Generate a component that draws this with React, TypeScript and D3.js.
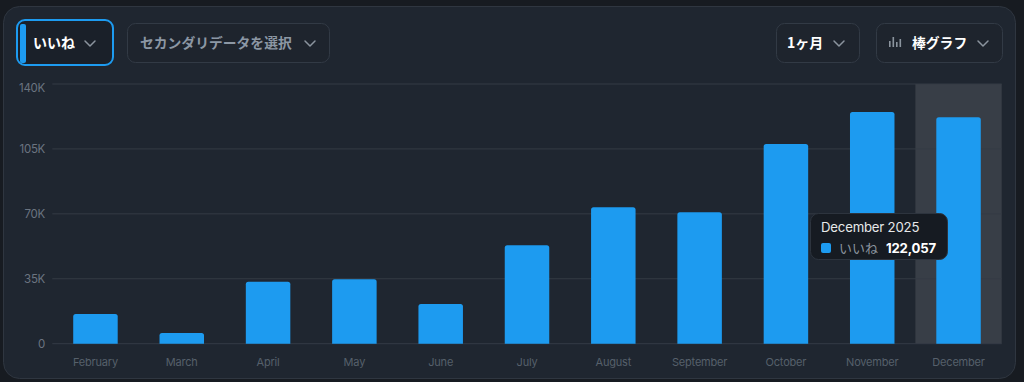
import React from "react";
import * as d3 from "d3";

const months = ["February", "March", "April", "May", "June", "July", "August", "September", "October", "November", "December"];
const likes = [16000, 5800, 33400, 34700, 21400, 53100, 73600, 70800, 107600, 124900, 122057];
const yTicks = [0, 35000, 70000, 105000, 140000];
const yTickLabels = ["0", "35K", "70K", "105K", "140K"];
const seriesName = "いいね";
const secondaryLabel = "セカンダリデータを選択";
const periodLabel = "1ヶ月";
const chartTypeLabel = "棒グラフ";
const tooltipTitle = "December 2025";
const highlightIndex = 10;

const W = 1024;
const H = 382;
const FONT = "Inter, 'Noto Sans CJK JP', 'Noto Sans', sans-serif";
const JP = "'Noto Sans CJK JP', Inter, sans-serif";

function Chevron({ x, y }: { x: number; y: number }) {
  return (
    <polyline
      points={`${x},${y} ${x + 5},${y + 5} ${x + 10},${y}`}
      fill="none"
      stroke="#8b949e"
      strokeWidth={1.5}
      strokeLinecap="round"
      strokeLinejoin="round"
    />
  );
}

export default function App() {
  const x = d3.scaleBand<string>().domain(months).range([52.3, 1001.7]).padding(0);
  const y = d3.scaleLinear().domain([0, 140000]).range([343.7, 84]);
  const barW = 44.5;
  const fmt = d3.format(",");

  const hx = x(months[highlightIndex])!;

  const barPath = (x0: number, y0: number, w: number, h: number, r: number) => {
    const rr = Math.min(r, h);
    return `M${x0},${y0 + h}V${y0 + rr}Q${x0},${y0} ${x0 + rr},${y0}H${x0 + w - rr}Q${x0 + w},${y0} ${x0 + w},${y0 + rr}V${y0 + h}Z`;
  };

  return (
    <svg
      width={W}
      height={H}
      style={{ position: "absolute", left: 0, top: 0, display: "block" }}
      fontFamily={FONT}
    >
      <rect x={0} y={0} width={W} height={H} fill="#171b21" />
      <rect x={3.5} y={6.5} width={1012} height={372} rx={16} fill="#1f2630" stroke="#2f3640" strokeWidth={1} />

      {/* Controls */}
      <rect x={17} y={20} width={96} height={45} rx={8} fill="#1a2029" stroke="#1d9bf0" strokeWidth={2} />
      <rect x={20} y={24} width={6} height={39} rx={2} fill="#1d9bf0" />
      <text x={33} y={48} fontFamily={JP} fontSize={14} fontWeight={700} fill="#ffffff">{seriesName}</text>
      <Chevron x={85} y={41} />

      <rect x={127.5} y={23.5} width={202} height={39} rx={8} fill="#1e242d" stroke="#323a45" strokeWidth={1} />
      <text x={140} y={48} fontFamily={JP} fontSize={13.8} fontWeight={700} fill="#8c97a4">{secondaryLabel}</text>
      <Chevron x={305} y={41} />

      <rect x={776.5} y={23.5} width={83} height={39} rx={8} fill="#1e242d" stroke="#323a45" strokeWidth={1} />
      <text x={787} y={48} fontFamily={JP} fontSize={14} fontWeight={700} fill="#ffffff">{periodLabel}</text>
      <Chevron x={834} y={41} />

      <rect x={876.5} y={23.5} width={126} height={39} rx={8} fill="#1e242d" stroke="#323a45" strokeWidth={1} />
      <g fill="#8b949e">
        <rect x={889} y={41} width={1.6} height={6} />
        <rect x={892.5} y={37} width={1.6} height={10} />
        <rect x={896} y={42} width={1.6} height={5} />
        <rect x={899.5} y={39} width={1.6} height={8} />
      </g>
      <text x={912} y={48} fontFamily={JP} fontSize={13.8} fontWeight={700} fill="#ffffff">{chartTypeLabel}</text>
      <Chevron x={978} y={41} />

      {/* Highlight band */}
      <rect x={hx} y={y(140000)} width={x.bandwidth()} height={y(0) - y(140000)} fill="#383e47" />

      {/* Grid */}
      {yTicks.map((t, i) => (
        <g key={t}>
          <line x1={52.3} x2={1001.7} y1={y(t)} y2={y(t)} stroke="#343b45" strokeWidth={1} />
          <text
            x={45}
            y={i === yTicks.length - 1 ? y(t) + 7.5 : y(t) + 4.5}
            textAnchor="end"
            fontSize={11.5}
            letterSpacing={-0.3}
            fill="#6b7480"
          >
            {yTickLabels[i]}
          </text>
        </g>
      ))}

      {/* Bars */}
      {likes.map((v, i) => {
        const cx = x(months[i])! + x.bandwidth() / 2;
        const top = y(v);
        return (
          <path key={months[i]} d={barPath(cx - barW / 2, top, barW, y(0) - top, 2.5)} fill="#1d9bf0" />
        );
      })}

      {/* X labels */}
      {months.map((m) => (
        <text
          key={m}
          x={x(m)! + x.bandwidth() / 2}
          y={366}
          textAnchor="middle"
          fontSize={11}
          letterSpacing={-0.2}
          fill="#56606b"
        >
          {m}
        </text>
      ))}

      {/* Tooltip */}
      <rect x={810.5} y={213.5} width={137} height={46} rx={8} fill="#161b22" stroke="#2d343e" strokeWidth={1} />
      <text x={821} y={232} fontSize={13.2} letterSpacing={-0.2} fill="#e7e9ea">{tooltipTitle}</text>
      <rect x={821} y={243} width={10} height={10} rx={2} fill="#1d9bf0" />
      <text x={839} y={252.5} fontFamily={JP} fontSize={13} fill="#8b949e">{seriesName}</text>
      <text x={886} y={253} fontSize={13.2} fontWeight={700} letterSpacing={-0.2} fill="#ffffff">{fmt(likes[highlightIndex])}</text>
    </svg>
  );
}
